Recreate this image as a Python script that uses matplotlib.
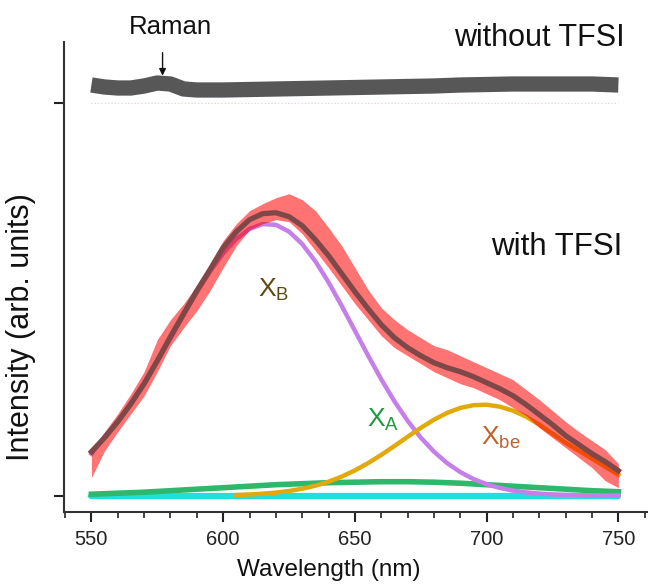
import matplotlib
matplotlib.use("Agg")
import matplotlib.pyplot as plt
from matplotlib.ticker import MultipleLocator, FixedLocator
import numpy as np

plt.rcParams['font.family'] = ['Liberation Sans', 'DejaVu Sans']
plt.rcParams['mathtext.fontset'] = 'custom'
plt.rcParams['mathtext.rm'] = 'Liberation Sans'
plt.rcParams['mathtext.it'] = 'Liberation Sans'

# ---- data (wavelength in nm, intensity in arbitrary units) ----
wl = [550, 555, 560, 565, 570, 575, 580, 585, 590, 595, 600, 605, 610, 615,
      620, 625, 630, 635, 640, 645, 650, 655, 660, 665, 670, 675, 680, 685,
      690, 695, 700, 705, 710, 715, 720, 725, 730, 735, 740, 745, 750]

fit_total = [44, 58, 74, 92, 112, 135, 159, 182, 205, 226, 248, 264, 276, 282,
             283, 279, 270, 256, 240, 222, 204, 187, 171, 158, 148, 140, 133, 128,
             124, 119, 113, 107, 100, 91, 81, 71, 60, 51, 42, 34, 25]

data_lo = [18, 45, 64, 82, 100, 124, 150, 168, 185, 205, 228, 250, 266, 272,
           276, 274, 262, 245, 228, 210, 192, 176, 160, 148, 140, 132, 124, 118,
           112, 108, 102, 96, 88, 80, 68, 58, 48, 38, 28, 15, 8]
data_hi = [46, 64, 82, 102, 124, 156, 176, 192, 210, 232, 255, 272, 285, 292,
           298, 302, 296, 285, 268, 250, 228, 206, 188, 176, 166, 158, 150, 146,
           140, 134, 128, 122, 116, 106, 96, 85, 74, 64, 55, 46, 32]

x_b = [42, 58.7, 74.3, 92.5, 112.7, 134.5, 157.5, 180.8, 203.4, 224.2, 242.3,
       256.8, 266.7, 271.6, 270.9, 264.1, 251.7, 234.4, 213.4, 189.8, 165, 140.2,
       116.4, 94.4, 74.9, 58.1, 44, 32.6, 23.6, 16.6, 11.5, 7.8, 5.1, 3.3, 2.1,
       1.3, 0.8, 0.5, 0.3, 0.2, 0.1]

wl_be = [605, 610, 615, 620, 625, 630, 635, 640, 645, 650, 655, 660, 665, 670,
         675, 680, 685, 690, 695, 700, 705, 710, 715, 720, 725, 730, 735, 740,
         745, 750]
x_be = [0.7, 1.2, 2.0, 3.1, 4.7, 7.0, 10.0, 14.0, 19.1, 25.3, 32.6, 40.8, 49.7,
        58.9, 67.8, 76, 82.8, 87.8, 90.5, 91, 89, 85, 79, 71, 62, 53, 45, 37, 29, 21]

wl_a = [550, 560, 570, 580, 590, 600, 610, 620, 630, 640, 650, 660, 670, 680,
        690, 700, 710, 720, 730, 740, 750]
x_a = [1.5, 2.5, 3.5, 5, 6.5, 8, 9.5, 11, 12, 13, 13.5, 14, 14, 13.5, 12.5, 11,
       9.5, 8, 6.5, 5, 4]

baseline = [0, 0]
baseline_wl = [550, 750]

wl_top = [550, 555, 560, 565, 570, 575, 580, 585, 590, 600, 610, 620, 630, 640,
          650, 660, 670, 680, 690, 700, 710, 720, 730, 740, 750]
no_tfsi = [410.7, 408.7, 407.7, 407.7, 409.7, 412.7, 411.7, 406.7, 405.7, 405.7,
           406.2, 406.7, 407.2, 407.7, 408.2, 408.7, 409.2, 409.7, 410.7, 411.2,
           411.7, 411.7, 411.7, 411.7, 410.7]
top_zero = [392.7, 392.7]

x_major = [550, 600, 650, 700, 750]
y_ticks = [0, 392.7]

# ---- figure ----
fig = plt.figure(figsize=(6.48, 5.84), dpi=100)
ax = fig.add_axes([63.5 / 648, 1 - 511.7 / 584, 1 - 63.5 / 648 + 0.01, (511.7 - 42) / 584])

ax.plot(baseline_wl, top_zero, color='#f2c4c4', lw=0.8, ls=(0, (1, 2)), zorder=1)
ax.plot(wl_top, no_tfsi, color='#575757', lw=11, solid_capstyle='butt', zorder=2)

ax.plot(baseline_wl, baseline, color='#1fe0e0', lw=4.5, solid_capstyle='round', zorder=3)
ax.plot(wl_a, x_a, color='#2db86c', lw=4, zorder=3)
ax.plot(wl, x_b, color='#c67ee8', lw=3.2, zorder=4)
ax.plot(wl_be, x_be, color='#e2a90c', lw=3.2, zorder=4)
ax.fill_between(wl, data_lo, data_hi, color='#ff0000', alpha=0.55, lw=0, zorder=5)
ax.plot(wl, fit_total, color='#7e4848', lw=3.8, zorder=6)

ax.set_xlim(539.4, 759.9 + 3.8)
ax.set_ylim(-16, 453.7)

for s in ['top', 'right']:
    ax.spines[s].set_visible(False)
for s in ['left', 'bottom']:
    ax.spines[s].set_color('#333333')
    ax.spines[s].set_linewidth(1.5)

ax.xaxis.set_major_locator(FixedLocator(x_major))
ax.xaxis.set_minor_locator(MultipleLocator(10))
ax.yaxis.set_major_locator(FixedLocator(y_ticks))
ax.set_yticklabels([])
ax.tick_params(axis='x', which='major', direction='out', length=7, width=1.5,
               colors='#222222', labelsize=14.5, pad=6)
ax.tick_params(axis='x', which='minor', direction='out', length=4, width=1.2, colors='#222222')
ax.tick_params(axis='y', which='major', direction='out', length=7, width=1.5, colors='#222222')

fig.text(329 / 648, 1 - 570 / 584, 'Wavelength (nm)', ha='center', va='center',
         fontsize=17.5, color='#111111')
fig.text(21 / 648, 1 - 327 / 584, 'Intensity (arb. units)', rotation=90,
         ha='center', va='center', fontsize=22, color='#111111')

# annotations
fig.text(170 / 648, 1 - 27 / 584, 'Raman', ha='center', va='center', fontsize=18.5, color='#111111')
ax.annotate('', xy=(577, 420), xytext=(577, 443),
            arrowprops=dict(arrowstyle='-|>', color='#111111', lw=1.0,
                            mutation_scale=10, shrinkA=0, shrinkB=0))
fig.text(625 / 648, 1 - 38 / 584, 'without TFSI', ha='right', va='center',
         fontsize=22, color='#111111')
fig.text(622 / 648, 1 - 247 / 584, 'with TFSI', ha='right', va='center',
         fontsize=22.5, color='#111111')
fig.text(274 / 648, 1 - 290 / 584, r'X$_\mathregular{B}$', ha='center', va='center',
         fontsize=19, color='#5e4a12')
fig.text(383 / 648, 1 - 420 / 584, r'X$_\mathregular{A}$', ha='center', va='center',
         fontsize=19, color='#1e9a3e')
fig.text(501 / 648, 1 - 438 / 584, r'X$_\mathregular{be}$', ha='center', va='center',
         fontsize=19, color='#c0622c')

fig.savefig('out.png', dpi=100, facecolor='white')
